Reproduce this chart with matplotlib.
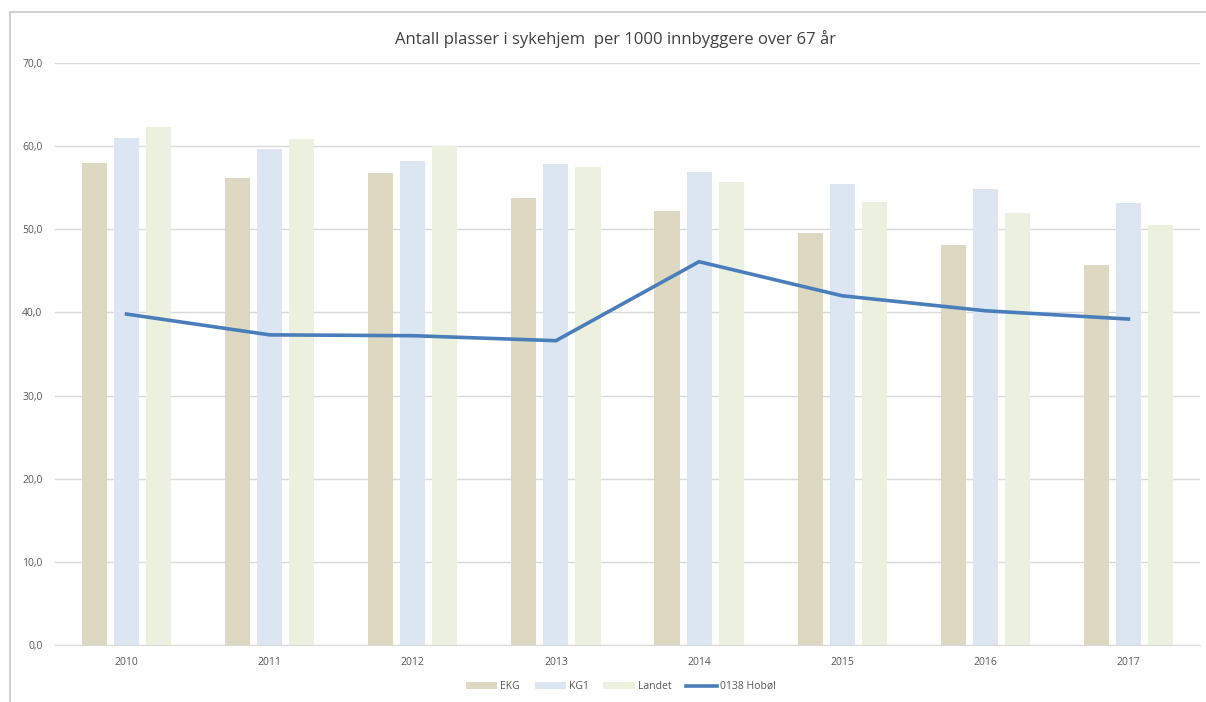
import matplotlib
matplotlib.use("Agg")
import matplotlib.pyplot as plt
import numpy as np
from matplotlib.patches import Rectangle

years = ["2010", "2011", "2012", "2013", "2014", "2015", "2016", "2017"]
ekg = [58.0, 56.2, 56.8, 53.7, 52.2, 49.6, 48.1, 45.7]
kg1 = [61.0, 59.7, 58.2, 57.8, 56.9, 55.5, 54.8, 53.1]
landet = [62.3, 60.9, 60.0, 57.5, 55.7, 53.3, 51.9, 50.5]
hobol = [39.8, 37.3, 37.2, 36.6, 46.1, 42.0, 40.2, 39.2]

plt.rcParams['font.family'] = ['Open Sans', 'DejaVu Sans']

fig = plt.figure(figsize=(12.06, 7.02), dpi=100)
ax = fig.add_axes([0.0456, 0.0812, 0.9494, 0.8291])

x = np.arange(len(years))
w = 0.175
off = 0.224
h1 = ax.bar(x - off, ekg, w, color="#DDD8C2", label="EKG", zorder=2)
h2 = ax.bar(x, kg1, w, color="#DCE6F2", label="KG1", zorder=2)
h3 = ax.bar(x + off, landet, w, color="#EBF1DE", label="Landet", zorder=2)
h4, = ax.plot(x, hobol, color="#4A7EBB", lw=2.6, label="0138 Hobøl", zorder=3)

ax.set_xlim(-0.5, len(years) - 0.5)
ax.set_ylim(0, 70)
ax.set_yticks(np.arange(0, 71, 10))
ax.set_yticklabels([f"{v:.1f}".replace(".", ",") for v in np.arange(0, 71, 10)])
ax.set_xticks(x)
ax.set_xticklabels(years)
ax.tick_params(axis="both", length=0, labelsize=7.5, colors="#595959")
ax.tick_params(axis="y", pad=9)
ax.tick_params(axis="x", pad=9)
ax.grid(axis="y", color="#D9D9D9", lw=1, zorder=0)
for s in ["top", "right", "left"]:
    ax.spines[s].set_visible(False)
ax.spines["bottom"].set_color("#D9D9D9")

fig.text(0.51, 0.945, "Antall plasser i sykehjem  per 1000 innbyggere over 67 år",
         ha="center", va="center", fontsize=12, color="#404040")

leg = fig.legend(handles=[h1, h2, h3, h4], loc="center", bbox_to_anchor=(0.515, 0.022),
                 ncol=4, frameon=False, fontsize=7.5, handlelength=3.0, handleheight=0.6,
                 handletextpad=0.3, columnspacing=1.4, labelcolor="#595959")

fig.add_artist(Rectangle((0.008, -0.01), 1.2, 0.993, transform=fig.transFigure,
                         fill=False, edgecolor="#D0D0D0", lw=1.5))

fig.savefig("out.png", dpi=100)
